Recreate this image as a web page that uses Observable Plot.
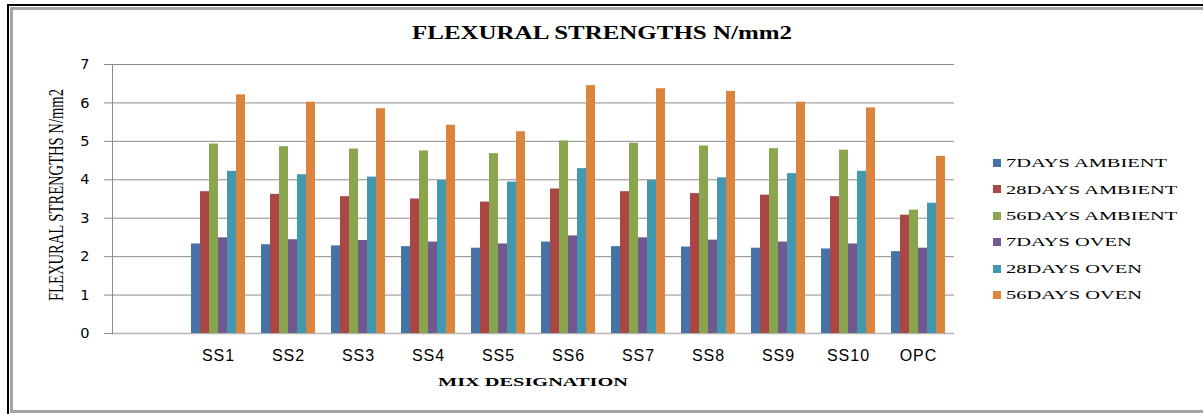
<!DOCTYPE html>
<html>
<head>
<meta charset="utf-8">
<script src="https://cdn.jsdelivr.net/npm/d3@7"></script>
<script src="https://cdn.jsdelivr.net/npm/@observablehq/plot@0.6"></script>
<style>
  body { margin: 0; background: #fff; }
  #wrap { position: relative; width: 1203px; height: 414px; overflow: hidden; background: #fff; }
  .fb { position: absolute; left: 7px; top: 4px; width: 1400px; height: 600px; border-left: 2px solid #000; border-top: 2px solid #000; }
  .fg { position: absolute; left: 10px; top: 7px; width: 1400px; height: 406px; box-sizing: border-box; border: 3px solid #a3a3a3; border-right: none; }
  .layer { position: absolute; left: 0; top: 0; }
  .txt { position: absolute; white-space: nowrap; font-family: "Liberation Serif", "Times New Roman", serif; color: #000; line-height: 1; }
  #title { left: 601.5px; top: 32px; font-size: 19px; font-weight: bold; }
  #ytitle { left: 57px; top: 195px; font-size: 15px; }
  #xtitle { left: 533px; top: 381px; font-size: 13px; font-weight: bold; }
  #legend { position: absolute; left: 993px; top: 150px; }
  .li { position: absolute; left: 0; height: 26px; display: flex; align-items: center; }
  .sw { width: 8px; height: 8px; margin-right: 5px; }
  .lt { font-family: "Liberation Serif", "Times New Roman", serif; font-size: 13.5px; white-space: nowrap; transform-origin: left center; display: inline-block; line-height: 1; }
  svg [aria-label="x-axis tick label"] text { letter-spacing: 1px; }
</style>
</head>
<body>
<div id="wrap">
  <div class="fb"></div>
  <div class="fg"></div>
  <div id="bg" class="layer"></div>
  <div id="fg" class="layer"></div>
  <div id="title" class="txt">FLEXURAL STRENGTHS N/mm2</div>
  <div id="ytitle" class="txt">FLEXURAL STRENGTHS N/mm2</div>
  <div id="xtitle" class="txt">MIX DESIGNATION</div>
  <div id="legend"></div>
</div>
<script>
// ---- data ----
const mixes = ["", "SS1", "SS2", "SS3", "SS4", "SS5", "SS6", "SS7", "SS8", "SS9", "SS10", "OPC"];
const seriesNames = ["7DAYS AMBIENT", "28DAYS AMBIENT", "56DAYS AMBIENT", "7DAYS OVEN", "28DAYS OVEN", "56DAYS OVEN"];
const seriesColors = ["#4572a7", "#aa4643", "#89a54e", "#71588f", "#4198af", "#db843d"];
const yTicks = [0, 1, 2, 3, 4, 5, 6, 7];
// values for SS1..OPC (the first, empty category has no bars)
const days7Ambient  = [2.33, 2.31, 2.28, 2.26, 2.22, 2.38, 2.26, 2.25, 2.22, 2.20, 2.13];
const days28Ambient = [3.69, 3.62, 3.56, 3.50, 3.42, 3.76, 3.69, 3.64, 3.60, 3.56, 3.08];
const days56Ambient = [4.93, 4.86, 4.80, 4.75, 4.68, 5.01, 4.95, 4.88, 4.81, 4.77, 3.21];
const days7Oven     = [2.49, 2.44, 2.42, 2.38, 2.33, 2.54, 2.49, 2.43, 2.38, 2.33, 2.22];
const days28Oven    = [4.22, 4.13, 4.07, 3.98, 3.94, 4.29, 3.98, 4.05, 4.16, 4.22, 3.39];
const days56Oven    = [6.21, 6.02, 5.85, 5.42, 5.25, 6.45, 6.37, 6.30, 6.02, 5.87, 4.61];

const seriesValues = [days7Ambient, days28Ambient, days56Ambient, days7Oven, days28Oven, days56Oven];
const dataMixes = mixes.slice(1);
const rows = [];
dataMixes.forEach((m, i) => seriesValues.forEach((vals, j) => rows.push({mix: m, series: seriesNames[j], value: vals[i]})));

const common = {
  width: 1203, height: 414,
  marginLeft: 112, marginRight: 249, marginTop: 64, marginBottom: 81,
  style: {background: "transparent", overflow: "visible"}
};

// background: grid, axes
const bg = Plot.plot({
  ...common,
  x: {domain: mixes, paddingInner: 0.21, paddingOuter: 0.105, axis: null},
  y: {domain: [0, 7], axis: null},
  marks: [
    Plot.gridY(yTicks, {stroke: "#8c8c8c", strokeOpacity: 1, strokeWidth: 1}),
    Plot.ruleY([0], {stroke: "#b4b4b4", strokeWidth: 1.5}),
    Plot.frame({anchor: "left", stroke: "#8c8c8c"}),
    Plot.axisY(yTicks, {tickSize: 8, tickPadding: 15, stroke: "#8c8c8c", fill: "#000", fontSize: 14.5, fontFamily: "DejaVu Sans", label: null}),
    Plot.axisX(dataMixes, {tickSize: 0, tickPadding: 16, fill: "#000", fontSize: 16, fontFamily: "Liberation Sans", label: null})
  ]
});
document.getElementById("bg").appendChild(bg);

// foreground: grouped bars
const fg = Plot.plot({
  ...common,
  fx: {domain: mixes, paddingInner: 0.21, paddingOuter: 0.105, axis: null, label: null},
  x: {domain: seriesNames, padding: 0, axis: null},
  y: {domain: [0, 7], axis: null},
  color: {domain: seriesNames, range: seriesColors},
  marks: [
    Plot.barY(rows, {fx: "mix", x: "series", y: "value", fill: "series", inset: 0})
  ]
});
document.getElementById("fg").appendChild(fg);

// legend
const legend = document.getElementById("legend");
const rowY = [0, 26.4, 52.8, 79.2, 105.6, 132];
seriesNames.forEach((s, i) => {
  const it = document.createElement("div");
  it.className = "li";
  it.style.top = rowY[i] + "px";
  const sw = document.createElement("div");
  sw.className = "sw";
  sw.style.background = seriesColors[i];
  const t = document.createElement("span");
  t.className = "lt";
  t.textContent = s;
  it.appendChild(sw); it.appendChild(t);
  legend.appendChild(it);
});
const firstText = legend.querySelector(".lt");
const legScale = 161 / firstText.getBoundingClientRect().width;
legend.querySelectorAll(".lt").forEach(t => t.style.transform = `scaleX(${legScale})`);

// fit text blocks
function fit(id, target, rot, cross) {
  const el = document.getElementById(id);
  const w = el.getBoundingClientRect().width;
  const s = target / w;
  el.style.transform = rot
    ? `translate(-50%,-50%) rotate(-90deg) scale(${s}, ${cross})`
    : `translate(-50%,-50%) scale(${s}, 1)`;
}
fit("title", 380, false);
fit("ytitle", 212, true, 1.4);
fit("xtitle", 190, false);
</script>
</body>
</html>
